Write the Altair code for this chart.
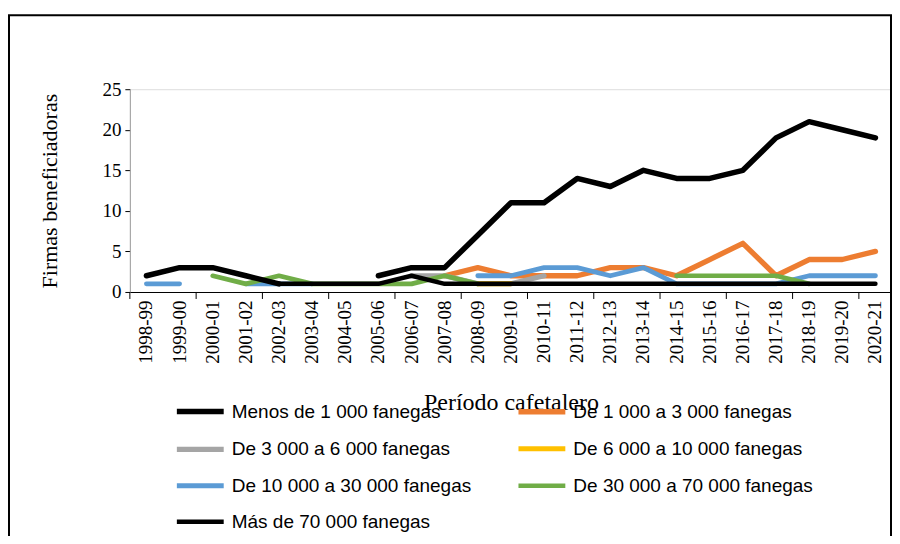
import altair as alt
import pandas as pd

N = None
periods = ["1998-99", "1999-00", "2000-01", "2001-02", "2002-03", "2003-04",
           "2004-05", "2005-06", "2006-07", "2007-08", "2008-09", "2009-10",
           "2010-11", "2011-12", "2012-13", "2013-14", "2014-15", "2015-16",
           "2016-17", "2017-18", "2018-19", "2019-20", "2020-21"]

series_names = ["Menos de 1 000 fanegas", "De 1 000 a 3 000 fanegas",
                "De 3 000 a 6 000 fanegas", "De 6 000 a 10 000 fanegas",
                "De 10 000 a 30 000 fanegas", "De 30 000 a 70 000 fanegas",
                "Más de 70 000 fanegas"]
series_colors = ["#000000", "#ED7D31", "#A5A5A5", "#FFC000", "#5B9BD5", "#70AD47", "#000000"]
series_widths = [5.5, 4.5, 4.5, 4.5, 4.5, 4.5, 5.5]

menos_1000 = [2, 3, 3, 2, 1, N, N, 2, 3, 3, 7, 11, 11, 14, 13, 15, 14, 14, 15, 19, 21, 20, 19]
de_1000_3000 = [N, N, N, N, N, N, N, N, N, 2, 3, 2, 2, 2, 3, 3, 2, 4, 6, 2, 4, 4, 5]
de_3000_6000 = [N, N, N, N, N, N, N, N, 2, 2, 1, 1, 2, N, N, N, N, N, N, N, N, N, N]
de_6000_10000 = [N, N, N, N, N, N, N, N, N, N, 1, 1, N, N, N, N, N, N, N, N, N, N, N]
de_10000_30000 = [1, 1, N, 1, 1, 1, N, N, N, N, 2, 2, 3, 3, 2, 3, 1, 1, 1, 1, 2, 2, 2]
de_30000_70000 = [N, N, 2, 1, 2, 1, 1, 1, 1, 2, 1, N, N, N, N, N, 2, 2, 2, 2, 1, N, N]
mas_70000 = [N, N, N, N, 1, 1, 1, 1, 2, 1, 1, 1, 1, 1, 1, 1, 1, 1, 1, 1, 1, 1, 1]

values_by_series = [menos_1000, de_1000_3000, de_3000_6000, de_6000_10000,
                    de_10000_30000, de_30000_70000, mas_70000]

y_ticks = [0, 5, 10, 15, 20, 25]
tick_periods = periods[::2]

# draw coloured series first, black ones on top
draw_order = [1, 2, 3, 4, 5, 0, 6]
rows = []
for k, si in enumerate(draw_order):
    for p, v in zip(periods, values_by_series[si]):
        rows.append({"periodo": p, "firmas": v, "serie": series_names[si], "orden": k})
df = pd.DataFrame(rows)
df_ticks = pd.DataFrame({"periodo": tick_periods})
df_one = pd.DataFrame({"k": [0]})

serif = "Liberation Serif"
sans = "Liberation Sans"

band_scale = alt.Scale(type="band", domain=periods, paddingInner=0, paddingOuter=0)

x_main = alt.X(
    "periodo:N", sort=periods, bandPosition=0.5, scale=band_scale,
    axis=alt.Axis(title="Período cafetalero", orient="bottom", labelAngle=-90,
                  labelFont=serif, labelFontSize=19, labelColor="#000000",
                  labelPadding=8, ticks=False, domainColor="#000000", domainWidth=1.2,
                  titleFont=serif, titleFontSize=24, titleFontWeight="normal",
                  titleColor="#000000", titleY=118, titleBaseline="alphabetic",
                  grid=False))

lines = alt.Chart(df).mark_line(strokeCap="round", strokeJoin="round",
                                invalid="break-paths-show-domains").encode(
    x=x_main,
    y=alt.Y("firmas:Q",
            scale=alt.Scale(domain=[0, 25], nice=False),
            axis=alt.Axis(title="Firmas beneficiadoras", values=y_ticks, grid=False,
                          labelFont=serif, labelFontSize=19, labelColor="#000000",
                          labelPadding=4, tickSize=5, tickColor="#000000",
                          domainColor="#A0A0A0", titleFont=serif, titleFontSize=22,
                          titleFontWeight="normal", titleColor="#000000",
                          titleX=-80, titleBaseline="middle")),
    color=alt.Color("serie:N",
                    scale=alt.Scale(domain=series_names, range=series_colors),
                    legend=alt.Legend(title=None, orient="none", legendX=44, legendY=296,
                                      direction="horizontal", columns=2,
                                      symbolType="stroke", symbolSize=2200,
                                      symbolStrokeWidth=5, labelFont=sans,
                                      labelFontSize=19, labelColor="#000000",
                                      labelLimit=500, labelOffset=5,
                                      columnPadding=36, rowPadding=0)),
    strokeWidth=alt.StrokeWidth("serie:N",
                                scale=alt.Scale(domain=series_names, range=series_widths),
                                legend=None),
    order=alt.Order("orden:Q"),
)

# category-axis tick marks every second period, at the band boundaries
ticks_layer = alt.Chart(df_ticks).mark_rule(color="#000000", strokeWidth=1).encode(
    x=alt.X("periodo:N", sort=periods, scale=band_scale, bandPosition=0),
    y=alt.value(203), y2=alt.value(210),
)

# chart-area border (left, top, right edges)
border_left = alt.Chart(df_one).mark_rule(color="#000000", strokeWidth=2).encode(
    x=alt.value(-121), y=alt.value(-74), y2=alt.value(480))
border_top = alt.Chart(df_one).mark_rule(color="#000000", strokeWidth=2).encode(
    x=alt.value(-122), x2=alt.value(763), y=alt.value(-74))
border_right = alt.Chart(df_one).mark_rule(color="#000000", strokeWidth=2).encode(
    x=alt.value(762), y=alt.value(-74), y2=alt.value(480))

chart = alt.layer(lines, ticks_layer, border_left, border_top, border_right).properties(
    width=763, height=203,
    autosize=alt.AutoSizeParams(type="none"),
    padding={"left": 122, "top": 81, "right": 0, "bottom": 244},
).configure_view(strokeWidth=0, stroke="transparent").configure_axis(
    grid=False).configure(background="#ffffff")

chart.save("out.html", embed_options={"renderer": "svg", "actions": False})
